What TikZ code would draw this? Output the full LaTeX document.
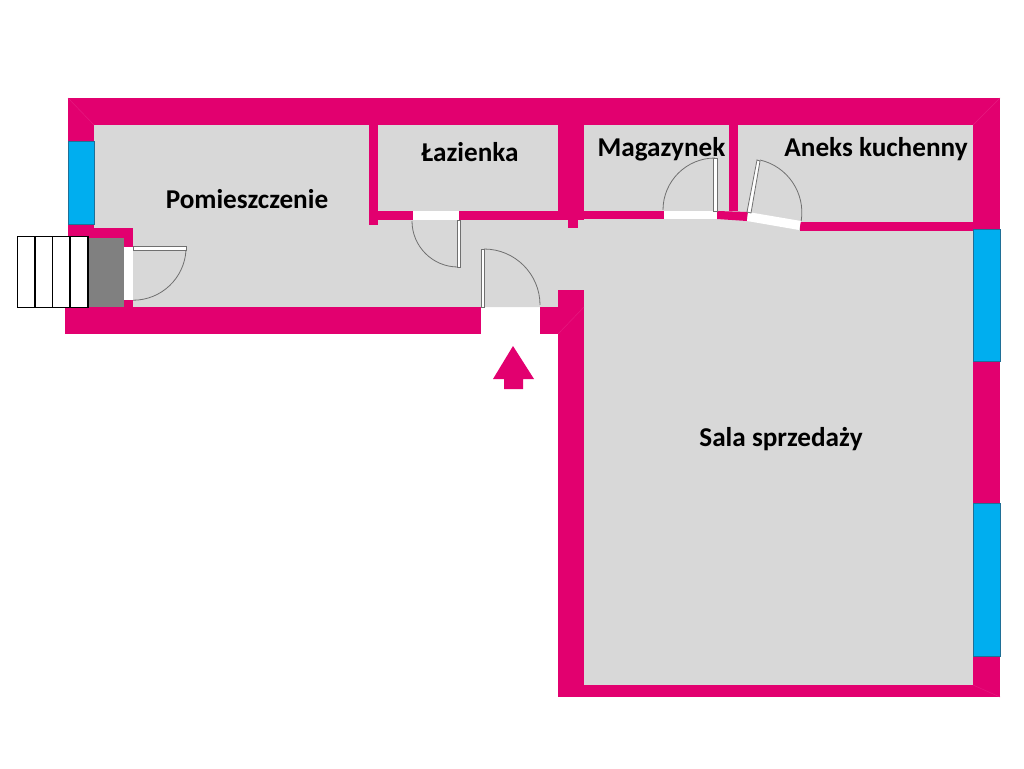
\documentclass[tikz,border=0pt]{standalone}
\usepackage{fontspec}
\setmainfont{Carlito}
\tikzset{
	wall/.style={fill=wallpink,draw=none},
	floorarea/.style={fill=floorgrey,draw=none},
	glass/.style={fill=glassblue,draw=glassedge,line width=0.8},
	gap/.style={fill=white,draw=none},
	leaf/.style={fill=white,draw=doorline,line width=0.8},
	swing/.style={draw=doorline,line width=0.8},
	miter/.style={draw=miterpink,line width=0.5},
	roomlabel/.style={font=\fontsize{27.2}{32}\bfseries,text=black,inner sep=0},
}
\definecolor{wallpink}{HTML}{E2006F}
\definecolor{floorgrey}{HTML}{D8D8D8}
\definecolor{glassblue}{HTML}{00AEEF}
\definecolor{glassedge}{HTML}{1F6F96}
\definecolor{doorline}{HTML}{707070}
\definecolor{miterpink}{HTML}{E61A80}
\definecolor{landing}{HTML}{808080}
\begin{document}
\begin{tikzpicture}[x=1pt,y=-1pt]
	\useasboundingbox (0,0) rectangle (1024,768);
	\fill[white] (0,0) rectangle (1024,768);

	\draw[floorarea] (94,125) -- (973,125) -- (973,685) -- (584,685) -- (584,307) -- (133,307) -- (133,228) -- (94,228) -- cycle;

	\draw[wall] (68,98) rectangle (1000,125);
	\draw[wall] (68,98) rectangle (94,141);
	\draw[wall] (68,224) rectangle (94,238);
	\draw[wall] (94,228) rectangle (133,238);
	\draw[wall] (124,238) rectangle (133,247);
	\draw[wall] (124,300) rectangle (133,307);
	\draw[wall] (65,307) rectangle (481,334);
	\draw[wall] (540,307) rectangle (558,334);
	\draw[wall] (558,290) rectangle (584,697);
	\draw[wall] (558,685) rectangle (1000,697);
	\draw[wall] (973,98) rectangle (1000,697);
	\draw[wall] (369,125) rectangle (378,225);
	\draw[wall] (378,211) rectangle (413,220);
	\draw[wall] (459,211) rectangle (584,220);
	\draw[wall] (558,125) rectangle (584,220);
	\draw[wall] (568,220) rectangle (578,228);
	\draw[wall] (584,211) rectangle (664,219);
	\draw[wall] (729,125) rectangle (738,211);
	\draw[wall] (717,211) -- (748,212) -- (747,221) -- (717,219) -- cycle;
	\draw[wall] (800,222) rectangle (973,231);

	\draw[gap] (413,211) rectangle (459,220);
	\draw[gap] (664,211) rectangle (717,219);
	\draw[gap] (748,212) -- (801,221) -- (799,230) -- (747,221) -- cycle;
	\draw[gap] (124,247) rectangle (133,300);

	\draw[glass] (68,141) rectangle (94,224);
	\draw[glass] (973,229) rectangle (1000,361);
	\draw[glass] (973,503) rectangle (1000,656);

	\draw[miter] (68,98) -- (94,125);
	\draw[miter] (1000,98) -- (973,125);
	\draw[miter] (1000,697) -- (973,685);
	\draw[miter] (558,334) -- (584,307);

	\fill[landing] (88,238) rectangle (124,307);
	\draw[black,line width=1.3,fill=white] (17.5,236.5) rectangle (88,307.5);
	\foreach \stepx in {35,52.5,70}
		\draw[black,line width=1.3] (\stepx,236.5) -- (\stepx,307.5);

	\draw[leaf] (133,246) rectangle (186,250);
	\draw[swing] (186,250) arc[start angle=3,end angle=90,radius=53];
	\draw[leaf] (457,220) rectangle (460,267);
	\draw[swing] (458,267) arc[start angle=90,end angle=180,radius=46];
	\draw[leaf] (481,249) rectangle (484,307);
	\draw[swing] (484,249) arc[start angle=-90,end angle=0,radius=56];
	\draw[leaf] (713,158) rectangle (717,211);
	\draw[swing] (715,158) arc[start angle=-90,end angle=-180,radius=52];
	\draw[leaf] (757,160) -- (760,161) -- (751,213) -- (747,212) -- cycle;
	\draw[swing] (760,160) arc[start angle=-77,end angle=9,radius=54];

	\fill[wallpink] (513,346) -- (534,379) -- (523,379) -- (523,389) -- (504,389) -- (504,379) -- (493,379) -- cycle;

	\node[roomlabel] (pomieszczenie) at (247,199) {Pomieszczenie};
	\node[roomlabel] (lazienka) at (470,152) {Łazienka};
	\node[roomlabel] (magazynek) at (661.5,149) {Magazynek};
	\node[roomlabel] (aneks) at (876,149) {Aneks kuchenny};
	\node[roomlabel] (sala) at (781,439) {Sala sprzedaży};
\end{tikzpicture}
\end{document}
